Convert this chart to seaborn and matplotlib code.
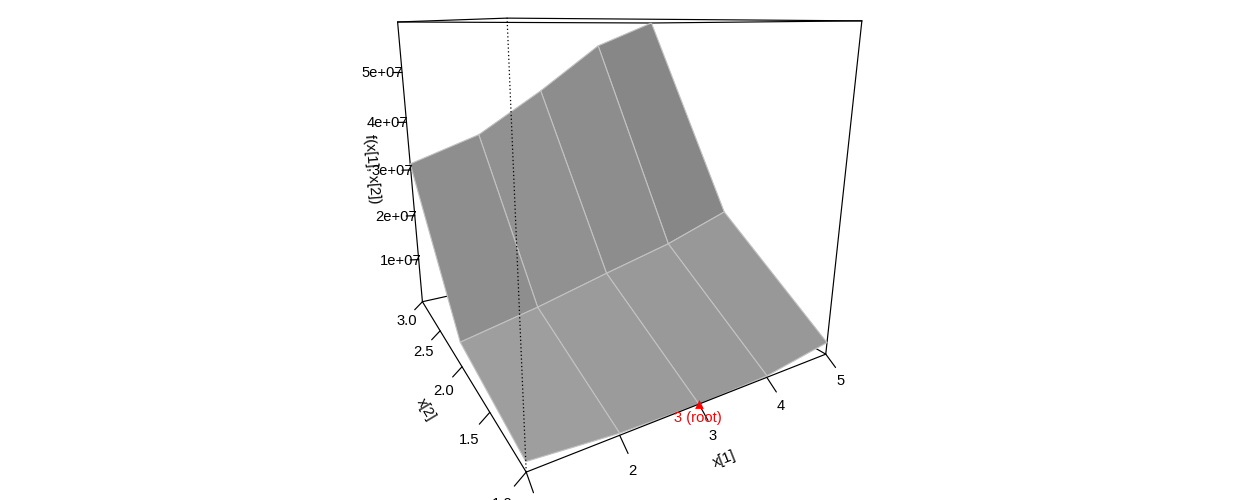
import numpy as np
import matplotlib
matplotlib.use("Agg")
import matplotlib.pyplot as plt
from mpl_toolkits.mplot3d import proj3d
import seaborn as sns

x1_vals = [1, 2, 3, 4, 5]
x2_vals = [1, 2, 3]
# f(x[1], x[2]) by row of x[2]
f_row1 = [0.17e7, 0.036e7, 0.0, 0.03e7, 0.24e7]
f_row2 = [0.49e7, 0.79e7, 1.15e7, 1.49e7, 1.95e7]
f_row3 = [3.13e7, 3.61e7, 4.48e7, 5.45e7, 5.97e7]
root_x1 = 3
root_x2 = 1
root_f = 0.0

x1_ticks = [1, 2, 3, 4, 5]
x1_labels = [2, 3, 4, 5]  # the label of 1 falls below the picture
x2_ticks = [1.0, 1.5, 2.0, 2.5, 3.0]
z_ticks = [1e7, 2e7, 3e7, 4e7, 5e7]
z_labels = ["1e+07", "2e+07", "3e+07", "4e+07", "5e+07"]

# grey of each facet, one row per x[2] band
facet_lower = ["#9e9e9e", "#9b9b9b", "#999999", "#989898"]
facet_upper = ["#8e8e8e", "#919191", "#8d8d8d", "#878787"]

sns.set_theme(style="white", rc={"axes.grid": False})
plt.rcParams["font.family"] = ["Liberation Sans", "DejaVu Sans"]

# camera values fitted to the reference box
ELEV, AZIM, FOCAL = 14.982, -120.05, 0.10857
BOX = (1.0011, 0.99632, 1)
ZOOM = 0.52647
CX, CY = 606.52, 184.06
FIG_W, FIG_H = 1242, 500
AX_PX = 1000.0

fig = plt.figure(figsize=(FIG_W / 100, FIG_H / 100), dpi=100)
unit = AX_PX / 0.185
left = (CX - 0.095 * unit) / FIG_W
bottom = (FIG_H - CY - 0.095 * unit) / FIG_H
ax = fig.add_axes([left, bottom, AX_PX / FIG_W, AX_PX / FIG_H],
                  projection="3d", computed_zorder=False)
ax.set_axis_off()
ax.patch.set_alpha(0)
ax.view_init(ELEV, AZIM)
ax.set_proj_type("persp", focal_length=FOCAL)
ax.set_box_aspect(BOX, zoom=ZOOM)

x_lo, x_hi = min(x1_vals), max(x1_vals)
y_lo, y_hi = min(x2_vals), max(x2_vals)
z_lo, z_hi = 0.0, max(f_row3)
ax.set_xlim(x_lo, x_hi, view_margin=0)
ax.set_ylim(y_lo, y_hi, view_margin=0)
ax.set_zlim(z_lo, z_hi, view_margin=0)
x_rng, y_rng, z_rng = x_hi - x_lo, y_hi - y_lo, z_hi - z_lo

BLACK = "#000000"
TXT = 10.6


def seg(a, b, z=1, **kw):
    kw.setdefault("color", BLACK)
    kw.setdefault("lw", 0.85)
    ax.plot([a[0], b[0]], [a[1], b[1]], [a[2], b[2]], zorder=z, clip_on=False, **kw)


def put_text(x, y, z, s, color=BLACK, rot=0, order=4):
    # Text3D ignores rotation, so place a plain text at the projected point
    xp, yp, _ = proj3d.proj_transform(x, y, z, ax.get_proj())
    ax.text2D(xp, yp, s, fontsize=TXT, color=color, rotation=rot, ha="center", va="center",
              rotation_mode="anchor", zorder=order)


# back of the box, behind the surface
seg((x_lo, y_hi, z_lo), (x_hi, y_hi, z_lo))
seg((x_hi, y_lo, z_lo), (x_hi, y_hi, z_lo))
seg((x_hi, y_hi, z_lo), (x_hi, y_hi, z_hi))
seg((x_lo, y_hi, z_hi), (x_hi, y_hi, z_hi))
seg((x_hi, y_lo, z_hi), (x_hi, y_hi, z_hi))
seg((x_lo, y_hi, z_lo), (x_lo, y_hi, z_hi))
seg((x_hi, y_lo, z_lo), (x_hi, y_lo, z_hi))

X, Y = np.meshgrid(x1_vals, x2_vals)
Z = np.array([f_row1, f_row2, f_row3])
colors = np.array([[matplotlib.colors.to_rgba(c) for c in row]
                   for row in (facet_lower, facet_upper)])
surf = ax.plot_surface(X, Y, Z, facecolors=colors, rstride=1, cstride=1, shade=False,
                       edgecolor="#c2c2c2", linewidth=0.8, antialiased=True, zorder=2)
surf.set_clip_on(False)

# front edges of the box
seg((x_lo, y_lo, z_lo), (x_hi, y_lo, z_lo), z=3)
seg((x_lo, y_lo, z_lo), (x_lo, y_hi, z_lo), z=1)
seg((x_lo, y_lo, z_lo), (x_lo, y_lo, z_hi), z=3, ls=(0, (1, 2)), lw=0.9)
seg((x_lo, y_lo, z_hi), (x_hi, y_lo, z_hi), z=3)
seg((x_lo, y_lo, z_hi), (x_lo, y_hi, z_hi), z=3)

for v in x1_ticks:
    seg((v, y_lo, z_lo), (v, y_lo - 0.04 * y_rng, z_lo - 0.025 * z_rng), z=3)
for v in x1_labels:
    put_text(v, y_lo - 0.062 * y_rng, z_lo - 0.059 * z_rng, str(v))
for v in x2_ticks:
    seg((x_lo, v, z_lo), (x_lo - 0.03 * x_rng, v, z_lo - 0.025 * z_rng), z=3)
    put_text(x_lo - 0.06 * x_rng, v, z_lo - 0.061 * z_rng, "%.1f" % v)
for v, lab in zip(z_ticks, z_labels):
    seg((x_lo, y_hi, v), (x_lo - 0.027 * x_rng, y_hi + 0.012 * y_rng, v), z=3)
    put_text(x_lo - 0.06 * x_rng, y_hi + 0.016 * y_rng, v, lab)

put_text(3, y_lo - 0.11 * y_rng, z_lo - 0.095 * z_rng, "x[1]", rot=21.6)
put_text(x_lo - 0.115 * x_rng, 2, z_lo - 0.105 * z_rng, "x[2]", rot=-59)
put_text(x_lo - 0.12 * x_rng, y_hi + 0.05 * y_rng, 0.51 * z_hi, "f(x[1], x[2])", rot=-85)

# the root
ax.scatter([root_x1], [root_x2], [root_f], marker="^", s=40, color="#ff0000", linewidths=0,
           depthshade=False, zorder=5, clip_on=False)
put_text(root_x1, root_x2, root_f - 0.045 * z_rng, "3 (root)", color="#ff0000", order=6)

fig.savefig("out.png", dpi=100)
